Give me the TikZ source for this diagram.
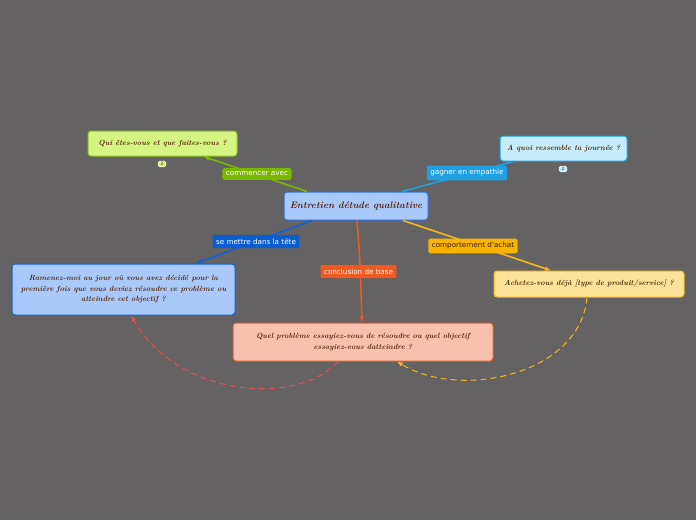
\documentclass[tikz,border=0pt]{standalone}
\usepackage{fontspec}
\newfontfamily\tagfont{DejaVu Sans}
\usetikzlibrary{arrows.meta,calc}

\definecolor{bg}{RGB}{100,98,98}
\definecolor{ink}{RGB}{84,38,6}
\definecolor{ctrfill}{RGB}{169,201,250}
\definecolor{ctrline}{RGB}{47,111,214}
\definecolor{limefill}{RGB}{214,244,130}
\definecolor{limeline}{RGB}{140,190,30}
\definecolor{limetag}{RGB}{122,184,0}
\definecolor{cyanfill}{RGB}{198,236,251}
\definecolor{cyanline}{RGB}{30,160,226}
\definecolor{bluefill}{RGB}{169,201,250}
\definecolor{blueline}{RGB}{20,96,210}
\definecolor{bluetag}{RGB}{10,94,208}
\definecolor{yelfill}{RGB}{253,226,154}
\definecolor{yelline}{RGB}{244,184,30}
\definecolor{yeltag}{RGB}{248,180,0}
\definecolor{redfill}{RGB}{249,192,174}
\definecolor{redline}{RGB}{234,90,40}
\definecolor{redtag}{RGB}{240,90,32}
\definecolor{dashred}{RGB}{226,80,80}

\tikzset{
  box/.style={draw, rounded corners=3pt, line width=1pt, text=ink,
    font=\bfseries\itshape\fontsize{7.5}{10.5}\selectfont, align=center, inner sep=2pt},
  tag/.style={rounded corners=1.5pt, text=white, inner xsep=3.5pt, inner ysep=3.8pt,
    font=\tagfont\fontsize{7.2}{8}\selectfont},
  badge/.style={draw=white, line width=0.4pt, rounded corners=1.5pt, inner sep=1.2pt,
    minimum width=8pt, text=ink, font=\tagfont\fontsize{4.5}{5}\selectfont},
  link/.style={line width=1.6pt, -{Latex[length=6pt,width=5pt]}},
  back/.style={line width=1pt, dash pattern=on 6pt off 4pt, -{Latex[length=6pt,width=5pt]}}
}

\begin{document}
\begin{tikzpicture}[x=1pt,y=-1pt]
  \fill[bg] (0,0) rectangle (696,520);
  \useasboundingbox (0,0) rectangle (696,520);

  \node[box, fill=ctrfill, draw=ctrline, minimum width=144pt, minimum height=28pt,
    font=\bfseries\itshape\fontsize{9.5}{12}\selectfont] (ctr) at (356,206) {Entretien détude qualitative};
  \node[box, fill=limefill, draw=limeline, minimum width=149pt, minimum height=25pt] (q1) at (162.5,143.5)
    {Qui êtes-vous et que faites-vous ?};
  \node[box, fill=cyanfill, draw=cyanline, minimum width=127pt, minimum height=25pt] (q2) at (563.5,148.5)
    {A quoi ressemble ta journée ?};
  \node[box, fill=bluefill, draw=blueline, minimum width=223pt, minimum height=51pt] (q3) at (123.5,289.5)
    {Ramenez-moi au jour où vous avez décidé pour la\\première fois que vous deviez résoudre ce problème ou\\atteindre cet objectif ?};
  \node[box, fill=yelfill, draw=yelline, minimum width=190pt, minimum height=26pt] (q4) at (589,284)
    {Achetez-vous déjà [type de produit/service] ?};
  \node[box, fill=redfill, draw=redline, minimum width=260pt, minimum height=38pt] (q5) at (363,342)
    {Quel problème essayiez-vous de résoudre ou quel objectif\\essayiez-vous datteindre ?};

  \node[badge, fill=limefill] (b1) at (162,164) {2};
  \node[badge, fill=cyanfill] (b2) at (563,169) {2};

  \draw[link, limetag] ($(ctr.north)+(-49,0)$) -- ($(q1.south)+(41,0)$);
  \draw[line width=1.6pt, cyanline] ($(ctr.north)+(46,0)$) -- ($(q2.south)+(-50,0)$);
  \draw[link, blueline] ($(ctr.south)+(-44,0)$) -- ($(q3.north)+(72,0)$);
  \draw[link, yelline] ($(ctr.south)+(47,0)$) -- ($(q4.north)+(-38,0)$);
  \draw[link, redline] ($(ctr.south)+(1,0)$) .. controls (360,260) .. ($(q5.north)+(-1,0)$);

  \draw[back, dashred] ($(q5.south)+(-25,0)$) .. controls (300,405) and (180,400) .. ($(q3.south)+(7.5,0)$);
  \draw[back, yelline] ($(q4.south)+(-2,0)$) .. controls (580,375) and (460,400) .. ($(q5.south)+(34,0)$);

  \node[tag, fill=limetag] (t1) at (257,174) {commencer avec};
  \node[tag, fill=cyanline] (t2) at (467,173) {gagner en empathie};
  \node[tag, fill=bluetag] (t3) at (256,241.5) {se mettre dans la tête};
  \node[tag, fill=yeltag, text=ink!70!black] (t4) at (473,246) {comportement d'achat};
  \node[tag, fill=redtag] (t5) at (358.5,271.5) {conclusion de base};
\end{tikzpicture}
\end{document}
